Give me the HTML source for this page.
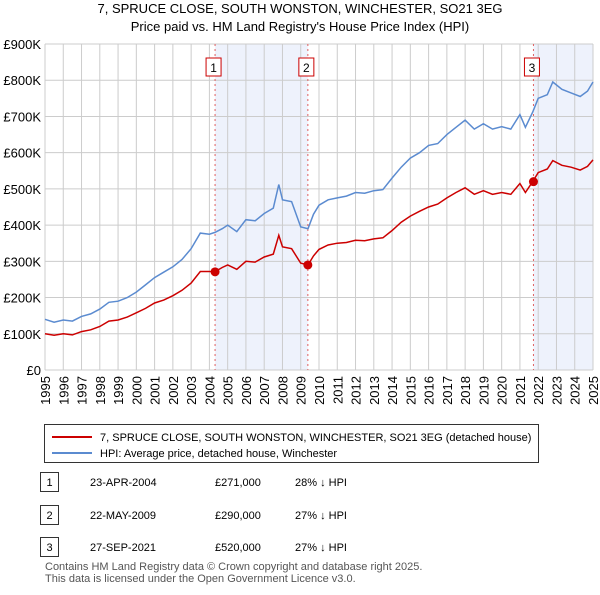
<!DOCTYPE html>
<html><head><meta charset="utf-8"><style>
body{margin:0;width:600px;height:590px;background:#fff;font-family:"Liberation Sans",sans-serif;overflow:hidden}
svg text{font-family:"Liberation Sans",sans-serif}
</style></head><body>
<svg id="c" width="600" height="590"></svg>
<script>
const years=[1995,1995.5,1996,1996.5,1997,1997.5,1998,1998.5,1999,1999.5,2000,2000.5,2001,2001.5,2002,2002.5,2003,2003.5,2004,2004.3,2004.7,2005,2005.5,2006,2006.5,2007,2007.5,2007.8,2008,2008.5,2009,2009.4,2009.7,2010,2010.5,2011,2011.5,2012,2012.5,2013,2013.5,2014,2014.5,2015,2015.5,2016,2016.5,2017,2017.5,2018,2018.5,2019,2019.5,2020,2020.5,2021,2021.3,2021.7,2022,2022.5,2022.8,2023.3,2023.8,2024.3,2024.7,2025];
const hpi=[140,132,138,135,148,155,168,187,190,200,215,235,255,270,285,305,335,378,375,380,390,400,382,415,412,432,447,512,470,465,395,390,430,455,470,475,480,490,488,495,498,530,560,585,600,620,625,650,670,690,665,680,665,672,665,705,670,712,750,760,795,775,765,755,770,795];
const paid=[100,96,100,97,106,111,120,135,138,146,158,170,185,193,205,220,240,272,272,271,283,290,278,300,298,312,320,372,340,335,295,290,315,333,345,350,352,358,357,362,365,385,408,425,438,450,458,475,490,503,485,495,485,490,485,515,490,520,545,555,578,565,560,552,562,580];
const saleYears=[2004.31,2009.39,2021.74];
const salePrices=[271,290,520];
const yTicks=[0,100,200,300,400,500,600,700,800,900];
const yTickLabels=["£0","£100K","£200K","£300K","£400K","£500K","£600K","£700K","£800K","£900K"];
const xTicks=[1995,1996,1997,1998,1999,2000,2001,2002,2003,2004,2005,2006,2007,2008,2009,2010,2011,2012,2013,2014,2015,2016,2017,2018,2019,2020,2021,2022,2023,2024,2025];

const NS="http://www.w3.org/2000/svg",svg=document.getElementById('c');
const X0=45,X1=593,Y0=370,Y1=44;
const x=v=>X0+(v-1995)/30*(X1-X0);
const y=v=>Y0-v/900*(Y0-Y1);
function el(t,a,p){const e=document.createElementNS(NS,t);for(const k in a)e.setAttribute(k,a[k]);(p||svg).appendChild(e);return e;}
function tx(s,a){const e=el('text',a);e.textContent=s;return e;}

let t=tx("7, SPRUCE CLOSE, SOUTH WONSTON, WINCHESTER, SO21 3EG",{x:300,y:13,'text-anchor':'middle','font-size':13});


t=tx("Price paid vs. HM Land Registry's House Price Index (HPI)",{x:300,y:31,'text-anchor':'middle','font-size':13});



// shaded
[[saleYears[0],saleYears[1]],[saleYears[2],2025]].forEach(r=>{
 const s=el('rect',{x:x(r[0]),y:Y1,width:x(r[1])-x(r[0]),height:Y0-Y1,fill:'#eef2fc'});
 
 
});
// grid
xTicks.forEach(v=>{const g=el('line',{x1:x(v),x2:x(v),y1:Y1,y2:Y0,stroke:'#ccc'});
 
 
 const l=tx(String(v),{transform:`translate(${x(v)+5},${Y0+6}) rotate(-90)`,'text-anchor':'end','font-size':13});
 
 
});
yTicks.forEach((v,i)=>{const g=el('line',{x1:X0,x2:X1,y1:y(v),y2:y(v),stroke:'#ccc'});
 
 
 const l=tx(yTickLabels[i],{x:X0-4,y:y(v)+5,'text-anchor':'end','font-size':13});
 
 
});
// sale vlines & markers
saleYears.forEach((v,i)=>{
 const d=el('line',{x1:x(v),x2:x(v),y1:Y1,y2:Y0,stroke:'#e06060','stroke-dasharray':'2,3'});
 
 
 const b=el('rect',{x:x(v)-9,y:58,width:15,height:18,fill:'#fff',stroke:'#c00'});
 
 
 const l=tx(String(i+1),{x:x(v)-1.5,y:72,'text-anchor':'middle','font-size':12});
 
 
});
const pts=a=>a.map((v,i)=>x(years[i]).toFixed(1)+','+y(v).toFixed(1)).join(' ');
let p=el('polyline',{points:pts(hpi),fill:'none',stroke:'#5b8bd0','stroke-width':1.5});


p=el('polyline',{points:pts(paid),fill:'none',stroke:'#cc0000','stroke-width':1.5});


saleYears.forEach((v,i)=>{const c=el('circle',{cx:x(v),cy:y(salePrices[i]),r:4.5,fill:'#cc0000'});
 
 
});
// legend
const lg=el('rect',{x:44.5,y:424.5,width:494,height:38,fill:'#fff',stroke:'#333'});


[['#cc0000','7, SPRUCE CLOSE, SOUTH WONSTON, WINCHESTER, SO21 3EG (detached house)',437,'legend-price-paid'],['#5b8bd0','HPI: Average price, detached house, Winchester',453,'legend-hpi']].forEach(r=>{
 const l=el('line',{x1:52,x2:92,y1:r[2],y2:r[2],stroke:r[0],'stroke-width':2});
 
 
 const s=tx(r[1],{x:100,y:r[2]+4,'font-size':11});
 
 
});
// table
const rows=[['1','23-APR-2004','£271,000','28% ↓ HPI',482],['2','22-MAY-2009','£290,000','27% ↓ HPI',515],['3','27-SEP-2021','£520,000','27% ↓ HPI',547]];
rows.forEach(r=>{
 const b=el('rect',{x:40.5,y:r[4]-9.5,width:18,height:19,fill:'#fff',stroke:'#333'});
 
 
 [[r[0],49.5,'middle'],[r[1],90,'start'],[r[2],215,'start'],[r[3],295,'start']].forEach(c=>{
  const s=tx(c[0],{x:c[1],y:r[4]+4,'font-size':11,'text-anchor':c[2]});
  
  
 });
});
t=tx("Contains HM Land Registry data © Crown copyright and database right 2025.",{x:45,y:570,'font-size':11,fill:'#555'});


t=tx("This data is licensed under the Open Government Licence v3.0.",{x:45,y:582,'font-size':11,fill:'#555'});


</script></body></html>
